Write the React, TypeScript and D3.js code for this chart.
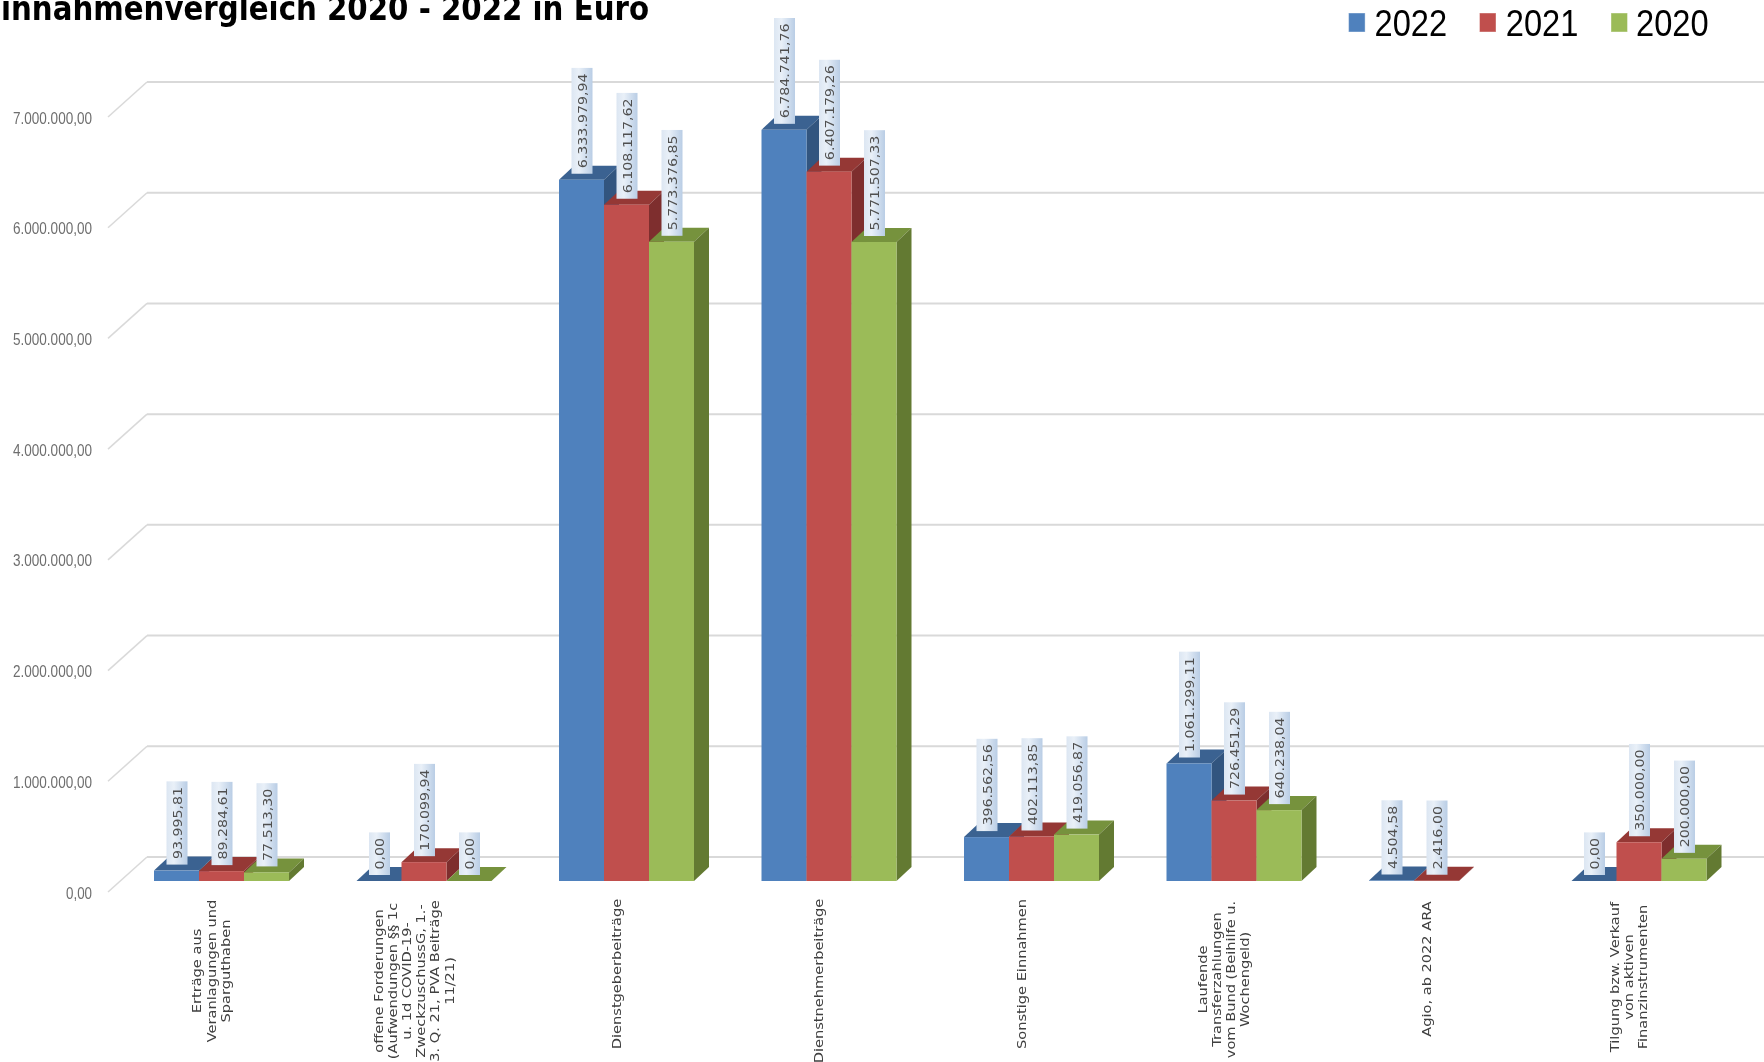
import React from "react";
import * as d3 from "d3";

const categories = [
  ["Erträge aus", "Veranlagungen und", "Sparguthaben"],
  ["offene Forderungen", "(Aufwendungen §§ 1c", "u. 1d COVID-19-", "ZweckzuschussG, 1.-", "3. Q. 21, PVA Beiträge", "11/21)"],
  ["Dienstgeberbeiträge"],
  ["Dienstnehmerbeiträge"],
  ["Sonstige Einnahmen"],
  ["Laufende", "Transferzahlungen", "vom Bund (Beihilfe u.", "Wochengeld)"],
  ["Agio, ab 2022 ARA"],
  ["Tilgung bzw. Verkauf", "von aktiven", "Finanzinstrumenten"],
];
const seriesNames = ["2022", "2021", "2020"];
const values2022 = [93995.81, 0, 6333979.94, 6784741.76, 396562.56, 1061299.11, 4504.58, 0];
const values2021 = [89284.61, 170099.94, 6108117.62, 6407179.26, 402113.85, 726451.29, 2416.0, 350000];
const values2020: (number | null)[] = [77513.3, 0, 5773376.85, 5771507.33, 419056.87, 640238.04, null, 200000];
const yTicks = [0, 1000000, 2000000, 3000000, 4000000, 5000000, 6000000, 7000000];

const frontColors = ["#4F81BD", "#C0504D", "#9BBB59"];
const topColors = ["#3A6291", "#953836", "#76923C"];
const sideColors = ["#31547F", "#7E2F2D", "#647A33"];

const W = 1764;
const H = 1062;
const DX = 15;
const DY = 14;
const labelCenterY = [971, 981, 974, 981, 974, 979.5, 969, 977];

const de = d3.formatLocale({ decimal: ",", thousands: ".", grouping: [3], currency: ["", "€"] });
const fmt = de.format(",.2f");

const y = d3.scaleLinear().domain([0, 7000000]).range([881, 106]);
const keys = categories.map((_, i) => String(i));
const x0 = d3.scaleBand().domain(keys).range([154, 1706.5]).paddingInner(1 / 3).paddingOuter(0);
const x1 = d3.scaleBand().domain(seriesNames).range([0, x0.bandwidth()]);

const seriesValues = [values2022, values2021, values2020];

const legendItems = [
  { swatch: 1348.6, text: 1374.5 },
  { swatch: 1479.5, text: 1505.8 },
  { swatch: 1611, text: 1636 },
];

function labelLength(s: string) {
  let em = 0;
  for (const c of s) em += c === "." || c === "," ? 0.318 : 0.636;
  return em * 14.2;
}

export default function App() {
  React.useEffect(() => {
    document.body.style.margin = "0";
  }, []);
  const bars: React.ReactNode[] = [];
  const labels: React.ReactNode[] = [];
  keys.forEach((k, i) => {
    seriesNames.forEach((name, s) => {
      const v = seriesValues[s][i];
      if (v === null) return;
      const xl = (x0(k) as number) + (x1(name) as number);
      const w = x1.bandwidth();
      const yt = y(v);
      const yb = y(0);
      bars.push(
        <g key={`${k}-${name}`}>
          <path d={`M${xl},${yt}L${xl + DX},${yt - DY}L${xl + w + DX},${yt - DY}L${xl + w},${yt}Z`} fill={topColors[s]} />
          <path d={`M${xl + w},${yt}L${xl + w + DX},${yt - DY}L${xl + w + DX},${yb - DY}L${xl + w},${yb}Z`} fill={sideColors[s]} />
          <rect x={xl} y={yt} width={w} height={yb - yt} fill={frontColors[s]} />
        </g>
      );
      const t = fmt(v);
      const len = labelLength(t);
      const boxLen = len + 11;
      const cx = xl + w / 2 + 0.5;
      const bottom = yt - 6;
      labels.push(
        <g key={`l-${k}-${name}`}>
          <rect x={cx - 10.5} y={bottom - boxLen} width={21} height={boxLen} fill="url(#labelBg)" />
          <text
            transform={`translate(${cx + 4.6},${bottom - 5.5}) rotate(-90)`}
            fontFamily="'DejaVu Sans'"
            fontSize={12.8}
            fill="#505050"
            textLength={len}
            lengthAdjust="spacingAndGlyphs"
          >
            {t}
          </text>
        </g>
      );
    });
  });

  return (
    <svg width={W} height={H} style={{ position: "fixed", left: 0, top: 0, background: "#fff" }}>
      <defs>
        <linearGradient id="labelBg" x1="0" x2="1" y1="0" y2="0">
          <stop offset="0" stopColor="#DCE6F2" />
          <stop offset="0.35" stopColor="#E9F0F8" />
          <stop offset="1" stopColor="#B9CDE5" />
        </linearGradient>
        <filter id="soft" x="0" y="0" width="100%" height="100%" filterUnits="objectBoundingBox">
          <feGaussianBlur stdDeviation="0.45" />
        </filter>
      </defs>
      <rect width={W} height={H} fill="#fff" />
      <g filter="url(#soft)">
        <rect width={W} height={H} fill="#fff" />
        <text
          x={649}
          y={20}
          textAnchor="end"
          fontFamily="'DejaVu Sans'"
          fontWeight="bold"
          fontSize={33}
          fill="#000"
          textLength={668}
          lengthAdjust="spacingAndGlyphs"
        >
          Einnahmenvergleich 2020 - 2022 in Euro
        </text>

        {yTicks.map((t) => {
          const yy = y(t);
          return (
            <g key={t}>
              <path d={`M108,${yy + 11}L147,${yy - 24}`} fill="none" stroke="#D9D9D9" strokeWidth={1.5} />
              <path d={`M147,${yy - 24}H${W}`} fill="none" stroke="#D9D9D9" strokeWidth={2} />
              <text
                x={92}
                y={yy + 17.5}
                textAnchor="end"
                fontFamily="'Liberation Sans'"
                fontSize={16.5}
                fill="#6E6E6E"
                textLength={fmt(t).length > 4 ? 79 : 26}
                lengthAdjust="spacingAndGlyphs"
              >
                {fmt(t)}
              </text>
            </g>
          );
        })}

        {bars}
        {labels}

        {categories.map((lines, i) => {
          const cx = (x0(keys[i]) as number) + x0.bandwidth() / 2 - 10.5;
          const lh = 14.2;
          const center = labelCenterY[i];
          return (
            <g key={i}>
              {lines.map((l, j) => (
                <text
                  key={j}
                  transform={`translate(${cx + (j - (lines.length - 1) / 2) * lh + 4.5},${center}) scale(1,1.27) rotate(-90)`}
                  textAnchor="middle"
                  fontFamily="'DejaVu Sans'"
                  fontSize={11.5}
                  fill="#404040"
                >
                  {l}
                </text>
              ))}
            </g>
          );
        })}

        {seriesNames.map((name, i) => (
          <g key={name}>
            <rect x={legendItems[i].swatch} y={13} width={16.5} height={19} fill={frontColors[i]} stroke="#fff" strokeOpacity={0.4} />
            <text
              x={legendItems[i].text}
              y={35.7}
              fontFamily="'Liberation Sans'"
              fontSize={37}
              fill="#000"
              textLength={72.6}
              lengthAdjust="spacingAndGlyphs"
            >
              {name}
            </text>
          </g>
        ))}
      </g>
    </svg>
  );
}
